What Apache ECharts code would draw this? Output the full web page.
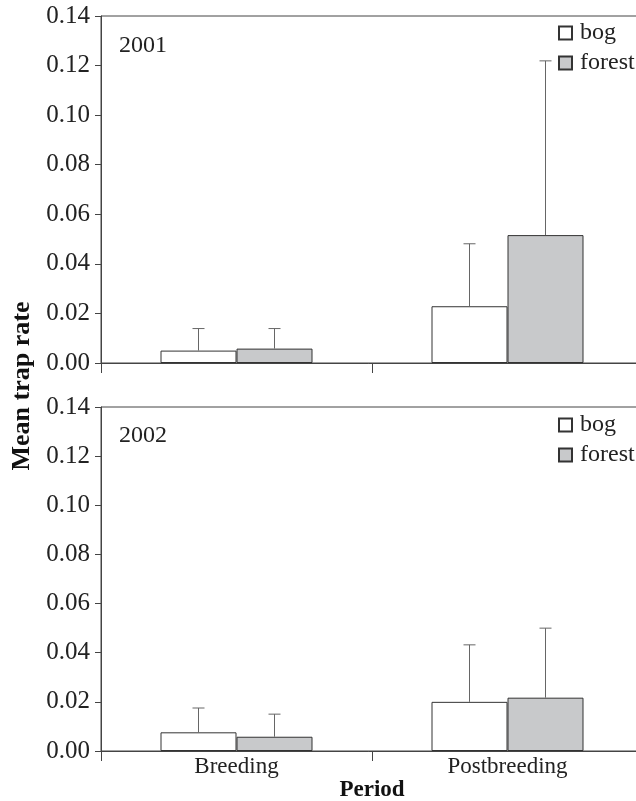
<!DOCTYPE html>
<html>
<head>
<meta charset="utf-8">
<script src="https://cdn.jsdelivr.net/npm/echarts@6/dist/echarts.min.js"></script>
<style>
  html, body { margin: 0; padding: 0; background: #fff; }
  #chart { width: 636px; height: 801px; }
</style>
</head>
<body>
<div id="chart"></div>
<script>
// periods on the x axis
const periods = ['Breeding', 'Postbreeding']
const yTicks = [0, 0.02, 0.04, 0.06, 0.08, 0.10, 0.12, 0.14]

// 2001 panel: means and error (upper bar length)
const bog2001 = [0.0050, 0.0229]
const bogErr2001 = [0.0089, 0.0252]
const forest2001 = [0.0058, 0.0516]
const forestErr2001 = [0.0081, 0.0703]

// 2002 panel
const bog2002 = [0.0076, 0.0200]
const bogErr2002 = [0.0099, 0.0232]
const forest2002 = [0.0058, 0.0217]
const forestErr2002 = [0.0092, 0.0283]

const font = "'Liberation Serif', 'DejaVu Serif', serif"
const lineColor = '#444'
const barW = 76

const chart = echarts.init(document.getElementById('chart'))

function errSeries(means, errs, gridIdx, offset) {
  return {
    type: 'custom',
    xAxisIndex: gridIdx,
    yAxisIndex: gridIdx,
    silent: true,
    z: 5,
    data: means.map((m, i) => [i, m, errs[i]]),
    renderItem: (params, api) => {
      const base = api.coord([api.value(0), api.value(1)])
      const top = api.coord([api.value(0), api.value(1) + api.value(2)])
      const x = base[0] + offset
      const style = { stroke: '#666', lineWidth: 1 }
      return {
        type: 'group',
        children: [
          { type: 'line', shape: { x1: x, y1: base[1], x2: x, y2: top[1] }, style },
          { type: 'line', shape: { x1: x - 6, y1: top[1], x2: x + 6, y2: top[1] }, style }
        ]
      }
    }
  }
}

function barSeries(name, data, gridIdx, fill) {
  return {
    name: name,
    type: 'bar',
    xAxisIndex: gridIdx,
    yAxisIndex: gridIdx,
    data: data,
    barWidth: barW,
    barGap: '0%',
    itemStyle: { color: fill, borderColor: '#333', borderWidth: 1 },
    emphasis: { disabled: true }
  }
}

function xAxis(gridIdx, showLabel) {
  return {
    type: 'category',
    gridIndex: gridIdx,
    data: periods,
    axisLine: { lineStyle: { color: lineColor, width: 1 } },
    axisTick: { show: true, length: 10, lineStyle: { color: lineColor } },
    axisLabel: { show: showLabel, color: '#222', fontFamily: font, fontSize: 23, margin: 4 },
    name: showLabel ? 'Period' : '',
    nameLocation: 'middle',
    nameGap: 27,
    nameTextStyle: { color: '#111', fontFamily: font, fontSize: 23, fontWeight: 'bold' }
  }
}

function yAxis(gridIdx) {
  return {
    type: 'value',
    gridIndex: gridIdx,
    min: 0,
    max: 0.14,
    interval: 0.02,
    axisLine: { show: true, lineStyle: { color: lineColor, width: 1 } },
    axisTick: { show: true, length: 6, lineStyle: { color: lineColor } },
    splitLine: { show: false },
    axisLabel: {
      color: '#222', fontFamily: font, fontSize: 25, margin: 11,
      formatter: v => v.toFixed(2)
    }
  }
}

function legend(top) {
  return {
    data: ['bog', 'forest'],
    orient: 'vertical',
    left: 558,
    top: top,
    padding: 0,
    icon: 'rect',
    itemWidth: 13,
    itemHeight: 13,
    itemGap: 6,
    selectedMode: false,
    textStyle: { color: '#222', fontFamily: font, fontSize: 24, padding: [0, 0, 0, 3] }
  }
}

const option = {
  animation: false,
  backgroundColor: '#fff',
  grid: [
    { left: 101, top: 16, width: 542, height: 347, outerBoundsMode: 'none', show: true, borderColor: lineColor, borderWidth: 1, backgroundColor: 'transparent' },
    { left: 101, top: 407, width: 542, height: 344, outerBoundsMode: 'none', show: true, borderColor: lineColor, borderWidth: 1, backgroundColor: 'transparent' }
  ],
  xAxis: [xAxis(0, false), xAxis(1, true)],
  yAxis: [yAxis(0), yAxis(1)],
  legend: [legend(21), legend(413)],
  title: [
    { text: '2001', left: 114, top: 29, textStyle: { fontFamily: font, fontSize: 24, fontWeight: 'normal', color: '#222' } },
    { text: '2002', left: 114, top: 419, textStyle: { fontFamily: font, fontSize: 24, fontWeight: 'normal', color: '#222' } }
  ],
  graphic: [{
    type: 'text',
    x: 22,
    y: 386,
    rotation: Math.PI / 2,
    style: {
      text: 'Mean trap rate',
      fill: '#111',
      font: 'bold 26px ' + font,
      align: 'center',
      verticalAlign: 'middle'
    }
  }],
  series: [
    barSeries('bog', bog2001, 0, '#ffffff'),
    barSeries('forest', forest2001, 0, '#c8c9cb'),
    barSeries('bog', bog2002, 1, '#ffffff'),
    barSeries('forest', forest2002, 1, '#c8c9cb'),
    errSeries(bog2001, bogErr2001, 0, -barW / 2),
    errSeries(forest2001, forestErr2001, 0, barW / 2),
    errSeries(bog2002, bogErr2002, 1, -barW / 2),
    errSeries(forest2002, forestErr2002, 1, barW / 2)
  ]
}

chart.setOption(option)
</script>
</body>
</html>
